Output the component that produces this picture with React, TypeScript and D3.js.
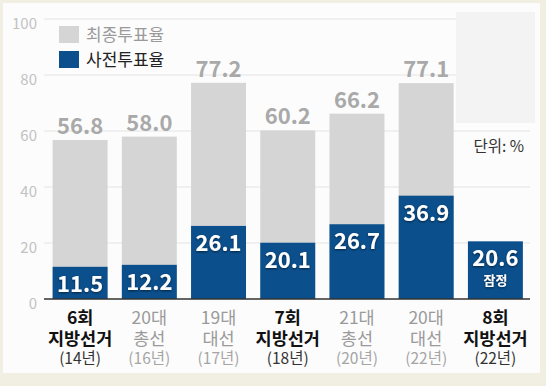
import React from "react";
import * as d3 from "d3";

const line1 = ["6회", "20대", "19대", "7회", "21대", "20대", "8회"];
const line2 = ["지방선거", "총선", "대선", "지방선거", "총선", "대선", "지방선거"];
const line3 = ["(14년)", "(16년)", "(17년)", "(18년)", "(20년)", "(22년)", "(22년)"];
const finalRate: (number | null)[] = [56.8, 58.0, 77.2, 60.2, 66.2, 77.1, null];
const earlyRate = [11.5, 12.2, 26.1, 20.1, 26.7, 36.9, 20.6];
const highlight = [true, false, false, true, false, false, true];
const yTicks = [0, 20, 40, 60, 80, 100];
const legendLabels = ["최종투표율", "사전투표율"];
const unitLabel = "단위: %";
const provisional = "잠정";

const W = 546;
const H = 386;
const FONT = "'Noto Sans CJK KR', 'Noto Sans', sans-serif";
const GREY = "#d5d5d5";
const BLUE = "#0b4f8c";

export default function App() {
  const x = d3
    .scaleBand<number>()
    .domain(d3.range(line1.length))
    .range([45.5, 530])
    .paddingInner(0.206)
    .paddingOuter(0.103);
  const y = d3.scaleLinear().domain([0, 100]).range([299, 19]);
  const bw = x.bandwidth();

  return (
    <svg
      width={W}
      height={H}
      style={{ position: "absolute", left: 0, top: 0 }}
      fontFamily={FONT}
    >
      <defs>
        <filter id="ts" x="-20%" y="-20%" width="140%" height="160%">
          <feDropShadow dx="0" dy="1" stdDeviation="1.2" floodColor="#000" floodOpacity="0.55" />
        </filter>
      </defs>
      <rect x={0} y={0} width={W} height={H} fill="#f1eee2" />
      <rect x={3} y={3} width={537} height={370} fill="#fcfcfc" />

      {/* grid */}
      {yTicks.map((t) => (
        <g key={t}>
          {t > 0 && (
            <line x1={44} x2={530} y1={y(t)} y2={y(t)} stroke="#e4e4e4" strokeWidth={1} />
          )}
          <text
            x={37}
            y={y(t) + 10}
            textAnchor="end"
            fontSize={15}
            fill="#c2c2c2"
          >
            {t}
          </text>
        </g>
      ))}

      {/* unit box */}
      <rect x={456} y={12} width={79} height={111} fill="#f3f3f3" />
      <text x={524} y={152} textAnchor="end" fontSize={15.5} fill="#333">
        {unitLabel}
      </text>

      {/* bars */}
      {line1.map((_, i) => {
        const x0 = x(i)!;
        const cx = x0 + bw / 2;
        const f = finalRate[i];
        const e = earlyRate[i];
        const hl = highlight[i];
        return (
          <g key={i}>
            {f !== null && (
              <>
                <rect x={x0} y={y(f)} width={bw} height={y(0) - y(f)} fill={GREY} />
                <text
                  x={cx}
                  y={y(f) - 6}
                  textAnchor="middle"
                  fontSize={22}
                  fontWeight={700}
                  fill="#a9a9a9"
                >
                  {f.toFixed(1)}
                </text>
              </>
            )}
            <rect x={x0} y={y(e)} width={bw} height={y(0) - y(e)} fill={BLUE} />
            <text
              x={cx}
              y={y(e) + 25}
              textAnchor="middle"
              fontSize={22}
              fontWeight={700}
              fill="#fff"
              filter="url(#ts)"
            >
              {e.toFixed(1)}
            </text>
            {f === null && (
              <text
                x={cx}
                y={y(e) + 44}
                textAnchor="middle"
                fontSize={13}
                fontWeight={700}
                fill="#fff"
                filter="url(#ts)"
              >
                {provisional}
              </text>
            )}
            <text textAnchor="middle">
              <tspan
                x={cx}
                y={324}
                fontSize={17.5}
                fontWeight={hl ? 700 : 400}
                fill={hl ? "#111" : "#9a9a9a"}
              >
                {line1[i]}
              </tspan>
              <tspan
                x={cx}
                y={345}
                fontSize={17.5}
                fontWeight={hl ? 700 : 400}
                fill={hl ? "#111" : "#9a9a9a"}
              >
                {line2[i]}
              </tspan>
              <tspan
                x={cx}
                y={364}
                fontSize={15.5}
                fill={hl ? "#333" : "#a5a5a5"}
              >
                {line3[i]}
              </tspan>
            </text>
          </g>
        );
      })}

      {/* baseline */}
      <line x1={44} x2={530} y1={y(0)} y2={y(0)} stroke="#333" strokeWidth={1.5} />

      {/* legend */}
      <rect x={59} y={26} width={20} height={17} fill={GREY} />
      <text x={86} y={41} fontSize={17} fill="#9a9a9a">
        {legendLabels[0]}
      </text>
      <rect x={59} y={51} width={20} height={17} fill={BLUE} />
      <text x={86} y={66} fontSize={17} fill="#222">
        {legendLabels[1]}
      </text>
    </svg>
  );
}
